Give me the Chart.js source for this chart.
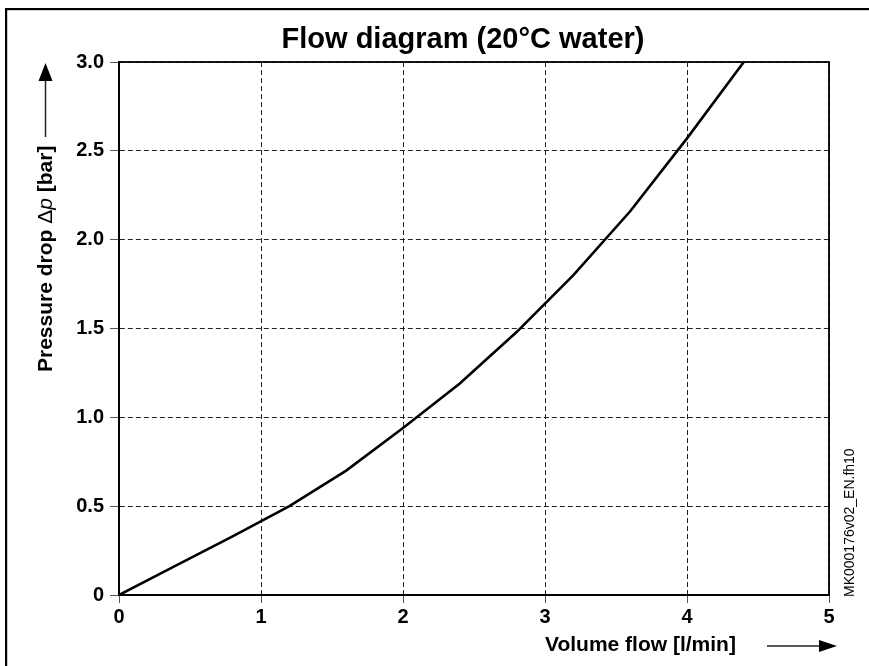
<!DOCTYPE html>
<html>
<head>
<meta charset="utf-8">
<script src="https://cdn.jsdelivr.net/npm/chart.js@4/dist/chart.umd.min.js"></script>
<style>
    html, body { margin: 0; padding: 0; background: #fff; }
    #wrap { position: relative; width: 869px; height: 666px; }
</style>
</head>
<body>
<div id="wrap"><canvas id="flowChart" width="869" height="666"></canvas></div>
<script>
// Volume flow [l/min] and pressure drop [bar] along the curve
const flowValues = [0, 0.4, 0.8, 1.2, 1.6, 2.0, 2.4, 2.8, 3.2, 3.6, 4.0, 4.4];
const pressureValues = [0, 0.165, 0.33, 0.50, 0.70, 0.94, 1.19, 1.48, 1.80, 2.16, 2.57, 3.0];

const xTickValues = [0, 1, 2, 3, 4, 5];
const xTickLabels = ['0', '1', '2', '3', '4', '5'];
const yTickValues = [0, 0.5, 1.0, 1.5, 2.0, 2.5, 3.0];
const yTickLabels = ['0', '0.5', '1.0', '1.5', '2.0', '2.5', '3.0'];

const chartTitle = 'Flow diagram (20\u00B0C water)';
const xAxisTitle = 'Volume flow [l/min]';
const docCode = 'MK000176v02_EN.fh10';

const FONT = '"Liberation Sans", Arial, Helvetica, sans-serif';

function arrowHead(ctx, tipX, tipY, dir) {
    // dir: 'up' or 'right'
    ctx.beginPath();
    if (dir === 'up') {
        ctx.moveTo(tipX, tipY);
        ctx.lineTo(tipX - 7, tipY + 18);
        ctx.lineTo(tipX + 7, tipY + 18);
    } else {
        ctx.moveTo(tipX, tipY);
        ctx.lineTo(tipX - 18, tipY - 6);
        ctx.lineTo(tipX - 18, tipY + 6);
    }
    ctx.closePath();
    ctx.fill();
}

// frame, plot box and all free text
const decorPlugin = {
    id: 'decor',
    afterDraw(chart) {
        const ctx = chart.ctx;
        const area = chart.chartArea;
        ctx.save();

        // outer page frame
        ctx.fillStyle = '#000';
        ctx.fillRect(5, 8, 869, 2.2);
        ctx.fillRect(5, 8, 2.2, 666);

        // plot box
        ctx.strokeStyle = '#000';
        ctx.lineWidth = 1.8;
        ctx.strokeRect(area.left, area.top, area.right - area.left, area.bottom - area.top);

        // chart title
        ctx.fillStyle = '#000';
        ctx.font = 'bold 29px ' + FONT;
        ctx.textAlign = 'center';
        ctx.textBaseline = 'middle';
        ctx.fillText(chartTitle, 463, 40);

        // x axis title with arrow
        ctx.font = 'bold 21px ' + FONT;
        ctx.textAlign = 'left';
        ctx.fillText(xAxisTitle, 545, 645);
        ctx.strokeStyle = '#222';
        ctx.lineWidth = 1.5;
        ctx.beginPath();
        ctx.moveTo(767, 646);
        ctx.lineTo(822, 646);
        ctx.stroke();
        arrowHead(ctx, 837, 646, 'right');

        // y axis title (rotated) with arrow
        ctx.save();
        ctx.translate(46, 372);
        ctx.rotate(-Math.PI / 2);
        ctx.textAlign = 'left';
        let x = 0;
        const parts = [
            ['Pressure drop ', 'bold 21px ' + FONT],
            ['\u0394', '21px ' + FONT],
            ['p', 'italic 21px ' + FONT],
            [' [bar]', 'bold 21px ' + FONT]
        ];
        parts.forEach(([txt, f]) => {
            ctx.font = f;
            ctx.fillText(txt, x, 0);
            x += ctx.measureText(txt).width;
        });
        ctx.restore();
        ctx.beginPath();
        ctx.moveTo(45.5, 137);
        ctx.lineTo(45.5, 78);
        ctx.stroke();
        arrowHead(ctx, 45.5, 63, 'up');

        // drawing code at right edge
        ctx.save();
        ctx.translate(850, 597);
        ctx.rotate(-Math.PI / 2);
        ctx.font = '14px ' + FONT;
        ctx.textAlign = 'left';
        ctx.fillText(docCode, 0, 0);
        ctx.restore();

        ctx.restore();
    }
};

const gridStyle = {
    color: '#222',
    lineWidth: 1,
    tickColor: '#555',
    tickBorderDash: [],
    tickWidth: 1
};

new Chart(document.getElementById('flowChart'), {
    type: 'line',
    data: {
        datasets: [{
            data: flowValues.map((v, i) => ({ x: v, y: pressureValues[i] })),
            borderColor: '#000',
            borderWidth: 2.6,
            pointRadius: 0,
            tension: 0,
            fill: false
        }]
    },
    options: {
        responsive: false,
        animation: false,
        events: [],
        layout: { padding: { left: 0, top: 62, right: 40, bottom: 0 } },
        plugins: {
            legend: { display: false },
            title: { display: false },
            tooltip: { enabled: false }
        },
        scales: {
            x: {
                type: 'linear',
                min: 0,
                max: 5,
                afterBuildTicks: scale => { scale.ticks = xTickValues.map(v => ({ value: v })); },
                afterFit: scale => { scale.height = 71; },
                grid: Object.assign({}, gridStyle, { tickLength: 8 }),
                border: { display: true, color: '#000', width: 1.8, dash: [5, 3] },
                ticks: {
                    color: '#000',
                    padding: 2,
                    maxRotation: 0,
                    font: { family: FONT, size: 20, weight: 'bold' },
                    callback: (v, i) => xTickLabels[i]
                }
            },
            y: {
                type: 'linear',
                min: 0,
                max: 3,
                afterBuildTicks: scale => { scale.ticks = yTickValues.map(v => ({ value: v })); },
                afterFit: scale => { scale.width = 119; },
                grid: Object.assign({}, gridStyle, { tickLength: 9 }),
                border: { display: true, color: '#000', width: 1.8, dash: [5, 3] },
                ticks: {
                    color: '#000',
                    padding: 6,
                    font: { family: FONT, size: 20, weight: 'bold' },
                    callback: (v, i) => yTickLabels[i]
                }
            }
        }
    },
    plugins: [decorPlugin]
});
</script>
</body>
</html>
